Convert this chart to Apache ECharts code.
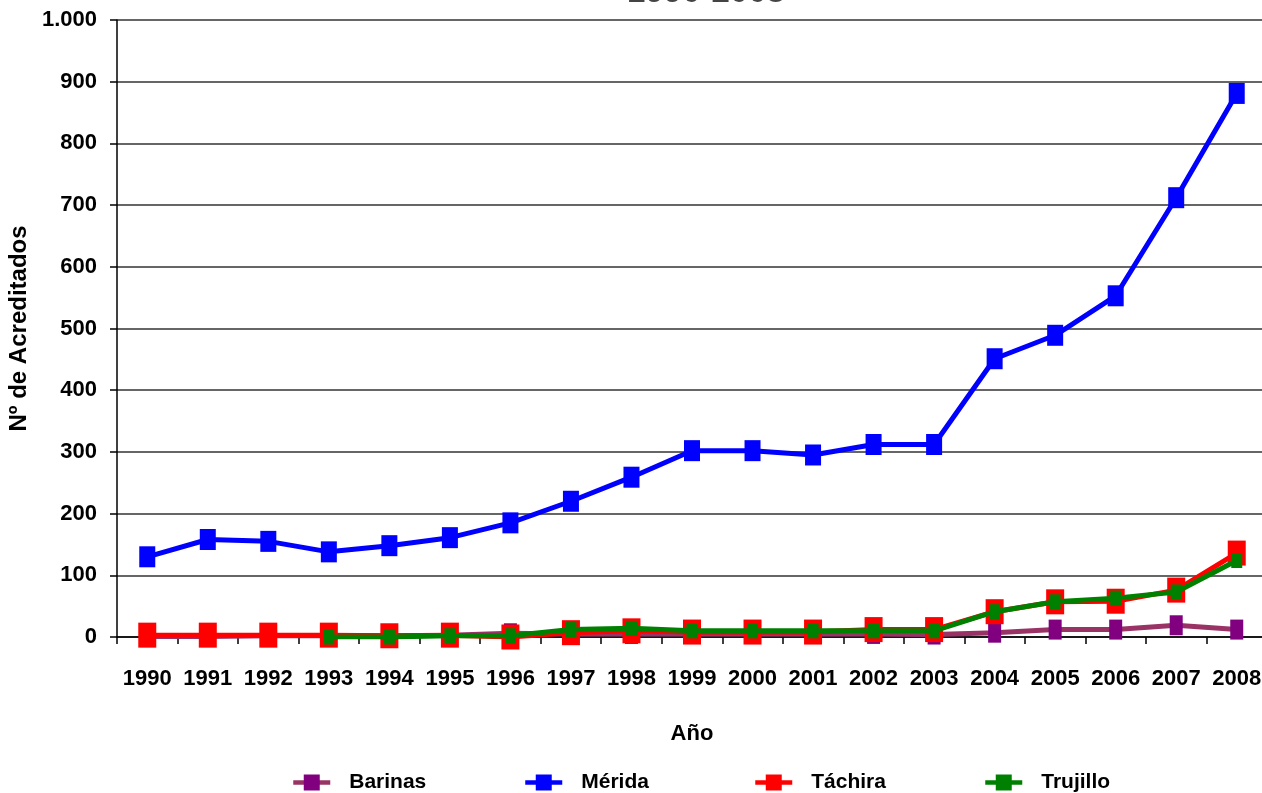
<!DOCTYPE html>
<html>
<head>
<meta charset="utf-8">
<script src="https://cdn.jsdelivr.net/npm/echarts@6/dist/echarts.min.js"></script>
<style>html,body{margin:0;padding:0;background:#fff}#c{width:1262px;height:793px}</style>
</head>
<body>
<div id="c"></div>
<script>
const years = ['1990','1991','1992','1993','1994','1995','1996','1997','1998','1999','2000','2001','2002','2003','2004','2005','2006','2007','2008'];
const barinas  = [1,1,2,2,2,3,6,5,5,5,5,5,5,4,7,12,12,19,12];
const merida   = [130,158,155,138,148,161,185,220,259,302,302,295,312,312,451,489,553,712,881];
const tachira  = [3,3,3,3,2,3,0,7,10,8,8,8,12,12,41,57,58,76,136];
const trujillo = [null,null,null,0,0,2,2,12,14,10,10,10,10,10,41,57,63,73,124];
const seriesNames = ['Barinas','Mérida','Táchira','Trujillo'];

const FONT = '"Liberation Sans", Arial, sans-serif';
const TXT = {fontFamily: FONT, fontWeight: 'bold', color: '#000'};
const chart = echarts.init(document.getElementById('c'));

function mk(name, data, lineColor, markColor, size, z) {
  return {
    name, type: 'line', data, z,
    symbol: 'rect', symbolSize: size,
    lineStyle: {color: lineColor, width: 5},
    itemStyle: {color: markColor},
    emphasis: {disabled: true},
    animation: false
  };
}
const legendLefts = [286, 518, 748, 978];

chart.setOption({
  animation: false,
  title: {
    text: '1990-2008', left: 701, textAlign: 'center', top: -29,
    textStyle: Object.assign({}, TXT, {fontSize: 33, color: '#444'})
  },
  grid: {left: 117, right: -5, top: 20, bottom: 156, outerBoundsMode: 'none', containLabel: false},
  legend: seriesNames.map((n, i) => ({
    left: legendLefts[i], top: 767, itemWidth: 37, itemHeight: 20, itemGap: 0,
    data: [n],
    lineStyle: {width: 4.5},
    textStyle: Object.assign({}, TXT, {fontSize: 21, padding: [0, 0, 0, 14]})
  })),
  xAxis: {
    type: 'category', data: years, boundaryGap: true,
    name: 'Año', nameLocation: 'middle', nameGap: 86,
    nameTextStyle: Object.assign({}, TXT, {fontSize: 22}),
    axisLine: {lineStyle: {color: '#000', width: 1.5}},
    axisTick: {show: true, alignWithLabel: false, length: 7, lineStyle: {color: '#000', width: 1.5}},
    axisLabel: Object.assign({}, TXT, {fontSize: 22, margin: 31, interval: 0})
  },
  yAxis: {
    type: 'value', min: 0, max: 1000, interval: 100,
    name: 'Nº de Acreditados', nameLocation: 'middle', nameGap: 71, nameRotate: 90,
    nameTextStyle: Object.assign({}, TXT, {fontSize: 24}),
    axisLine: {show: true, lineStyle: {color: '#000', width: 1.5}},
    axisTick: {show: true, length: 7, lineStyle: {color: '#000', width: 1.5}},
    axisLabel: Object.assign({}, TXT, {fontSize: 22, margin: 20,
      formatter: v => v >= 1000 ? (Math.floor(v/1000) + '.' + String(v%1000).padStart(3,'0')) : String(v)}),
    splitLine: {show: true, lineStyle: {color: '#666', width: 2}}
  },
  series: [
    mk('Barinas', barinas, '#993366', '#800080', [13,20], 2),
    mk('Mérida', merida, '#0000FF', '#0000FF', [16,21], 3),
    mk('Táchira', tachira, '#FF0000', '#FF0000', [18,25], 4),
    mk('Trujillo', trujillo, '#008000', '#008000', [11,15], 5)
  ]
});
</script>
</body>
</html>
